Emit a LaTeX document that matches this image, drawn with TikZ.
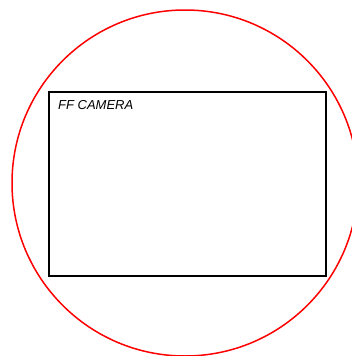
\documentclass[tikz,border=0pt]{standalone}
\usepackage{fontspec}
\setmainfont{Liberation Sans}
\begin{document}
\begin{tikzpicture}[x=1pt,y=-1pt,
  lens/.style={draw=red,line width=1.5pt},
  frame/.style={draw=black,line width=2pt},
  lbl/.style={font=\fontsize{13}{15}\selectfont\itshape,anchor=base west,inner sep=0pt}]
\useasboundingbox (0,0) rectangle (352,356);
\begin{scope}
\clip (0,0) rectangle (352,356);
\draw[lens] (185,183) circle[radius=173];
\end{scope}
\draw[frame] (49,92) rectangle (326,276);
\node[lbl] (cam) at (58,109.5) {FF CAMERA};
\end{tikzpicture}
\end{document}
